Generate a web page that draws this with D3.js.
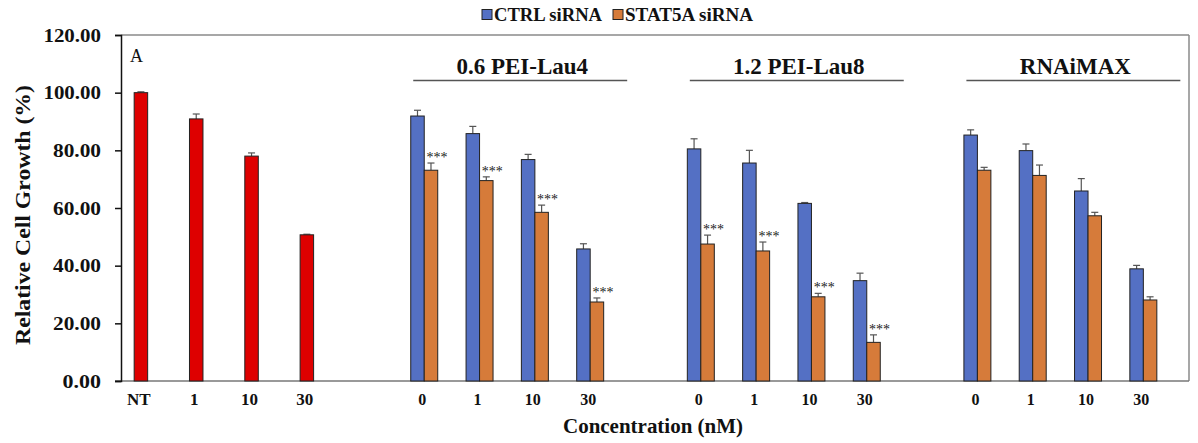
<!DOCTYPE html>
<html>
<head>
<meta charset="utf-8">
<script src="https://cdn.jsdelivr.net/npm/d3@7"></script>
<style>
  html, body { margin: 0; padding: 0; background: #fff; }
  svg { display: block; }
  svg text { font-family: "Liberation Serif", "Times New Roman", serif; }
</style>
</head>
<body>
<svg id="chart" width="1198" height="443" font-family="Liberation Serif, Times New Roman, serif"></svg>
<script>
// ---- data ----
const ntLabels = ["NT", "1", "10", "30"];
const ntValues = [100.0, 90.9, 78.0, 50.7];
const ntErr = [0.3, 1.7, 1.1, 0.2];

const concLabels = ["0", "1", "10", "30"];
const panelTitles = ["0.6 PEI-Lau4", "1.2 PEI-Lau8", "RNAiMAX"];
const seriesNames = ["CTRL siRNA", "STAT5A siRNA"];

const lau4Ctrl = [91.9, 85.8, 76.8, 45.8];
const lau4CtrlErr = [2.0, 2.5, 1.8, 1.8];
const lau4Stat = [73.1, 69.5, 58.5, 27.4];
const lau4StatErr = [2.5, 1.3, 2.5, 1.4];

const lau8Ctrl = [80.5, 75.6, 61.6, 34.8];
const lau8CtrlErr = [3.5, 4.4, 0.3, 2.6];
const lau8Stat = [47.5, 45.1, 29.2, 13.4];
const lau8StatErr = [3.1, 3.1, 1.2, 2.6];

const rnaiCtrl = [85.3, 79.9, 65.9, 38.9];
const rnaiCtrlErr = [1.8, 2.3, 4.3, 1.2];
const rnaiStat = [73.1, 71.3, 57.3, 28.1];
const rnaiStatErr = [1.0, 3.6, 1.2, 1.1];

const lau4Sig = ["***", "***", "***", "***"];
const lau8Sig = ["***", "***", "***", "***"];
const rnaiSig = ["", "", "", ""];

const yTicks = [0, 20, 40, 60, 80, 100, 120];

// ---- build slot table (4 bars per group, one empty slot between groups) ----
const panels = [
  { ctrl: lau4Ctrl, ctrlErr: lau4CtrlErr, stat: lau4Stat, statErr: lau4StatErr, sig: lau4Sig },
  { ctrl: lau8Ctrl, ctrlErr: lau8CtrlErr, stat: lau8Stat, statErr: lau8StatErr, sig: lau8Sig },
  { ctrl: rnaiCtrl, ctrlErr: rnaiCtrlErr, stat: rnaiStat, statErr: rnaiStatErr, sig: rnaiSig }
];
const ntRows = ntLabels.map((lab, i) => ({ slot: i, label: lab, value: ntValues[i], err: ntErr[i] }));
const pairRows = [];
panels.forEach((p, pi) => {
  concLabels.forEach((lab, i) => {
    pairRows.push({
      slot: 5 * (pi + 1) + i, panel: pi, label: lab,
      ctrl: p.ctrl[i], ctrlErr: p.ctrlErr[i],
      stat: p.stat[i], statErr: p.statErr[i], sig: p.sig[i]
    });
  });
});
const nSlots = 19;

// ---- layout ----
const FONT = "Liberation Serif, Times New Roman, serif";
const svg = d3.select("#chart");
const plot = { left: 121, right: 1189, top: 35, bottom: 381 };

const x = d3.scaleBand().domain(d3.range(nSlots)).range([120, 1171]).paddingInner(0).paddingOuter(0);
const xs = d3.scaleBand().domain(["ctrl", "stat"]).range([0, x.bandwidth()]).paddingInner(0).paddingOuter(1.05);
const y = d3.scaleLinear().domain([0, 120]).range([plot.bottom, plot.top]);

const colors = { nt: "#DE0000", ctrl: "#5470C4", stat: "#D67B3A" };
const errColor = "#555";

svg.append("rect").attr("width", 1198).attr("height", 443).attr("fill", "#fff");

// frame: top and right edges
svg.append("line").attr("x1", plot.left).attr("x2", plot.right).attr("y1", plot.top).attr("y2", plot.top)
  .attr("stroke", "#8a8a8a").attr("stroke-width", 1.5);
svg.append("line").attr("x1", plot.right).attr("x2", plot.right).attr("y1", plot.top).attr("y2", plot.bottom)
  .attr("stroke", "#8a8a8a").attr("stroke-width", 1.5);

// bottom axis line
svg.append("line").attr("x1", 115).attr("x2", plot.right).attr("y1", plot.bottom).attr("y2", plot.bottom)
  .attr("stroke", "#777").attr("stroke-width", 1.5);

// y axis
const yAxis = svg.append("g").attr("transform", `translate(${plot.left},0)`)
  .call(d3.axisLeft(y).tickValues(yTicks).tickFormat(d3.format(".2f")).tickSize(6).tickPadding(14));
yAxis.attr("font-family", FONT);
yAxis.select(".domain").attr("stroke", "#111").attr("stroke-width", 1.5);
yAxis.selectAll(".tick line").attr("stroke", "#111").attr("stroke-width", 1.5);
yAxis.selectAll(".tick text")
  .attr("font-family", FONT)
  .attr("font-weight", "bold").attr("font-size", 19).attr("fill", "#111")
  .attr("lengthAdjust", "spacingAndGlyphs")
  .each(function () {
    const t = d3.select(this);
    t.attr("textLength", t.text().length * 9.6);
  });

// y title
svg.append("text")
  .attr("transform", "translate(30,215) rotate(-90)")
  .attr("text-anchor", "middle").attr("font-family", FONT)
  .attr("font-weight", "bold").attr("font-size", 20).attr("fill", "#111")
  .attr("textLength", 260).attr("lengthAdjust", "spacingAndGlyphs")
  .text("Relative Cell Growth (%)");

// x title
svg.append("text")
  .attr("x", 653).attr("y", 433)
  .attr("text-anchor", "middle").attr("font-family", FONT)
  .attr("font-weight", "bold").attr("font-size", 20).attr("fill", "#111")
  .attr("textLength", 180).attr("lengthAdjust", "spacingAndGlyphs")
  .text("Concentration (nM)");

// panel letter
svg.append("text").attr("x", 130).attr("y", 62).attr("font-family", FONT)
  .attr("font-size", 18).attr("fill", "#111").text("A");

// ---- bars ----
const bw = xs.bandwidth();

function errBar(g, cx, v, e) {
  g.append("line").attr("x1", cx).attr("x2", cx).attr("y1", y(v)).attr("y2", y(v + e))
    .attr("stroke", errColor).attr("stroke-width", 1.2);
  g.append("line").attr("x1", cx - 3.5).attr("x2", cx + 3.5).attr("y1", y(v + e)).attr("y2", y(v + e))
    .attr("stroke", errColor).attr("stroke-width", 1.2);
}

const gBars = svg.append("g");

// single-series bars of the first group
ntRows.forEach(d => {
  const x0 = x(d.slot) + xs("ctrl");
  errBar(gBars, x0 + bw / 2, d.value, d.err);
  gBars.append("rect").attr("x", x0).attr("y", y(d.value)).attr("width", bw)
    .attr("height", y(0) - y(d.value)).attr("fill", colors.nt).attr("stroke", "#222").attr("stroke-width", 1);
});

// paired bars
pairRows.forEach(d => {
  [["ctrl", d.ctrl, d.ctrlErr], ["stat", d.stat, d.statErr]].forEach(([k, v, e]) => {
    const x0 = x(d.slot) + xs(k);
    errBar(gBars, x0 + bw / 2, v, e);
    gBars.append("rect").attr("x", x0).attr("y", y(v)).attr("width", bw)
      .attr("height", y(0) - y(v)).attr("fill", colors[k]).attr("stroke", "#222").attr("stroke-width", 1);
  });
  if (d.sig) {
    gBars.append("text")
      .attr("x", x(d.slot) + xs("stat") + bw / 2 + 6)
      .attr("y", y(d.stat + d.statErr) - 1)
      .attr("text-anchor", "middle").attr("font-family", FONT)
      .attr("font-size", 14).attr("fill", "#222")
      .text(d.sig);
  }
});

// ---- category labels ----
const gLab = svg.append("g").attr("font-weight", "bold").attr("fill", "#111")
  .attr("text-anchor", "middle").attr("font-family", FONT);
ntRows.forEach(d => {
  gLab.append("text").attr("x", x(d.slot) + xs("ctrl") + bw / 2 - 2).attr("y", 405)
    .attr("font-size", 17).text(d.label);
});
pairRows.forEach(d => {
  gLab.append("text").attr("x", x(d.slot) + x.bandwidth() / 2 - 2).attr("y", 405)
    .attr("font-size", 16).text(d.label);
});

// ---- panel titles with underline ----
panelTitles.forEach((t, pi) => {
  const first = x(5 * (pi + 1)) + x.bandwidth() / 2;
  const last = x(5 * (pi + 1) + 3) + x.bandwidth() / 2;
  const x1 = first - 11, x2 = last + 37;
  svg.append("line").attr("x1", x1).attr("x2", x2).attr("y1", 80.5).attr("y2", 80.5)
    .attr("stroke", "#555").attr("stroke-width", 1.6);
  svg.append("text").attr("x", (x1 + x2) / 2 + 2).attr("y", 74)
    .attr("text-anchor", "middle").attr("font-family", FONT)
    .attr("font-weight", "bold").attr("font-size", 23).attr("fill", "#111")
    .text(t);
});

// ---- legend ----
const legend = svg.append("g").attr("transform", "translate(482,0)");
const legItems = [
  { name: seriesNames[0], color: colors.ctrl, x: 0, len: 108 },
  { name: seriesNames[1], color: colors.stat, x: 131, len: 128 }
];
legItems.forEach(it => {
  legend.append("rect").attr("x", it.x).attr("y", 9.5).attr("width", 10).attr("height", 10)
    .attr("fill", it.color).attr("stroke", "#222").attr("stroke-width", 1);
  legend.append("text").attr("x", it.x + 12).attr("y", 21).attr("font-family", FONT)
    .attr("font-weight", "bold").attr("font-size", 18).attr("fill", "#111")
    .attr("textLength", it.len).attr("lengthAdjust", "spacingAndGlyphs")
    .text(it.name);
});
</script>
</body>
</html>
